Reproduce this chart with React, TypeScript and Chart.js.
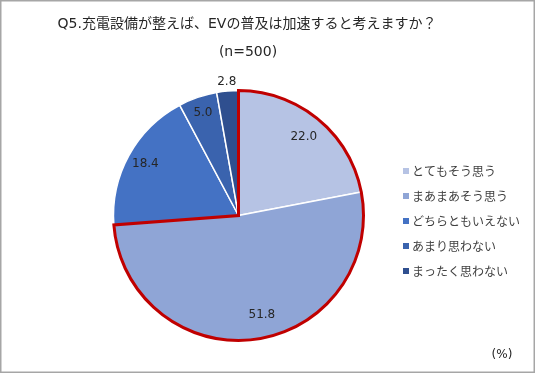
import React, { useEffect, useRef } from "react";
import { Chart, registerables } from "chart.js";

Chart.register(...registerables);

// ---- data ----
const titleLines = ["Q5.充電設備が整えば、EVの普及は加速すると考えますか？", "(n=500)"];
const categories = ["とてもそう思う", "まあまあそう思う", "どちらともいえない", "あまり思わない", "まったく思わない"];
const values = [22.0, 51.8, 18.4, 5.0, 2.8];
const valueLabels = ["22.0", "51.8", "18.4", "5.0", "2.8"];
const unitLabel = "(%)";
const highlightedSlices = [0, 1];

// ---- style ----
const sliceColors = ["#B6C3E4", "#8FA5D6", "#4472C4", "#3A63AE", "#2F4F8F"];
const labelRadiusFrac = [0.82, 0.82, 0.85, 0.87, 1.07];
const labelAngleShift = [0, -0.098, 0, 0, 0];
const FONT = "'DejaVu Sans', 'Noto Sans CJK JP', sans-serif";
const JFONT = "'Noto Sans CJK JP', sans-serif";

const decorPlugin = {
  id: "decor",
  beforeDraw(chart: any) {
    const ctx = chart.ctx;
    ctx.save();
    ctx.fillStyle = "#ffffff";
    ctx.fillRect(0, 0, chart.width, chart.height);
    ctx.strokeStyle = "#a6a6a6";
    ctx.lineWidth = 1.5;
    ctx.strokeRect(0.75, 0.75, chart.width - 2.5, chart.height - 4.5);
    // title
    ctx.fillStyle = "#262626";
    ctx.textAlign = "center";
    ctx.textBaseline = "middle";
    ctx.font = `14px ${FONT}`;
    ctx.fillText(titleLines[0], 247, 24);
    ctx.fillText(titleLines[1], 248, 52);
    // unit
    ctx.font = `12px ${FONT}`;
    ctx.fillText(unitLabel, 502, 355);
    // legend
    ctx.textAlign = "left";
    categories.forEach((c, i) => {
      const y = 171 + 25 * i;
      ctx.fillStyle = sliceColors[i];
      ctx.fillRect(403, y - 3, 6, 6);
      ctx.fillStyle = "#404040";
      ctx.font = `12px ${JFONT}`;
      ctx.fillText(c, 412, y);
    });
    ctx.restore();
  },
  afterDatasetsDraw(chart: any) {
    const ctx = chart.ctx;
    const meta = chart.getDatasetMeta(0);
    const first = meta.data[highlightedSlices[0]];
    const last = meta.data[highlightedSlices[highlightedSlices.length - 1]];
    ctx.save();
    ctx.beginPath();
    ctx.moveTo(first.x, first.y);
    ctx.arc(first.x, first.y, first.outerRadius, first.startAngle, last.endAngle);
    ctx.closePath();
    ctx.strokeStyle = "#C00000";
    ctx.lineWidth = 3;
    ctx.lineJoin = "miter";
    ctx.stroke();
    // value labels
    ctx.fillStyle = "#262626";
    ctx.font = `12px ${FONT}`;
    ctx.textAlign = "center";
    ctx.textBaseline = "middle";
    meta.data.forEach((arc: any, i: number) => {
      const a = (arc.startAngle + arc.endAngle) / 2 + labelAngleShift[i];
      const r = arc.outerRadius * labelRadiusFrac[i];
      ctx.fillText(valueLabels[i], arc.x + Math.cos(a) * r, arc.y + Math.sin(a) * r);
    });
    ctx.restore();
  },
};

export default function App() {
  const ref = useRef<HTMLCanvasElement | null>(null);
  useEffect(() => {
    if (!ref.current) return;
    const chart = new Chart(ref.current, {
      type: "pie",
      data: {
        labels: categories,
        datasets: [
          {
            data: values,
            backgroundColor: sliceColors,
            borderColor: "#ffffff",
            borderWidth: 1.5,
            radius: 125,
          } as any,
        ],
      },
      options: {
        responsive: false,
        animation: false,
        devicePixelRatio: 1,
        layout: { padding: { left: 90, right: 149, top: 80, bottom: 25 } },
        plugins: {
          legend: { display: false },
          title: { display: false },
          tooltip: { enabled: false },
        },
      },
      plugins: [decorPlugin],
    });
    return () => chart.destroy();
  }, []);
  return (
    <div style={{ position: "absolute", left: 0, top: 0, width: 536, height: 376 }}>
      <canvas ref={ref} width={536} height={376} />
    </div>
  );
}
